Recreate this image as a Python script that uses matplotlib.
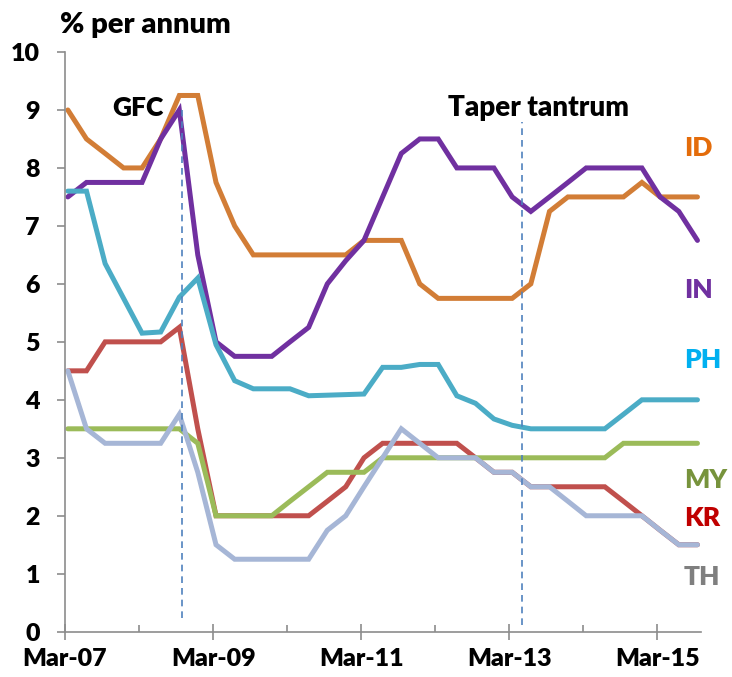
import numpy as np
import pandas as pd
import matplotlib
matplotlib.use("Agg")
import matplotlib.pyplot as plt
import matplotlib.dates as mdates

plt.rcParams['font.family'] = ['Lato', 'DejaVu Sans']
plt.rcParams['font.weight'] = 'heavy'

# quarterly policy rates, Mar-07 .. Sep-15 (% per annum)
quarters = pd.date_range('2007-03-01', '2015-09-01', freq='3MS') + pd.Timedelta(days=14)

ID = [9.0, 8.5, 8.25, 8.0, 8.0, 8.5, 9.25, 9.25, 7.75, 7.0, 6.5, 6.5, 6.5, 6.5, 6.5, 6.5,
      6.75, 6.75, 6.75, 6.0, 5.75, 5.75, 5.75, 5.75, 5.75, 6.0, 7.25, 7.5, 7.5, 7.5, 7.5,
      7.75, 7.5, 7.5, 7.5]
IN = [7.5, 7.75, 7.75, 7.75, 7.75, 8.5, 9.0, 6.5, 5.0, 4.75, 4.75, 4.75, 5.0, 5.25, 6.0, 6.4,
      6.75, 7.5, 8.25, 8.5, 8.5, 8.0, 8.0, 8.0, 7.5, 7.25, 7.5, 7.75, 8.0, 8.0, 8.0,
      8.0, 7.5, 7.25, 6.75]
PH = [7.6, 7.6, 6.35, 5.75, 5.15, 5.17, 5.77, 6.1, 4.95, 4.33, 4.19, 4.19, 4.19, 4.07, 4.08, 4.09,
      4.1, 4.56, 4.56, 4.61, 4.61, 4.07, 3.94, 3.67, 3.56, 3.5, 3.5, 3.5, 3.5, 3.5, 3.75,
      4.0, 4.0, 4.0, 4.0]
KR = [4.5, 4.5, 5.0, 5.0, 5.0, 5.0, 5.25, 3.5, 2.0, 2.0, 2.0, 2.0, 2.0, 2.0, 2.25, 2.5,
      3.0, 3.25, 3.25, 3.25, 3.25, 3.25, 3.0, 2.75, 2.75, 2.5, 2.5, 2.5, 2.5, 2.5, 2.25,
      2.0, 1.75, 1.5, 1.5]
MY = [3.5, 3.5, 3.5, 3.5, 3.5, 3.5, 3.5, 3.25, 2.0, 2.0, 2.0, 2.0, 2.25, 2.5, 2.75, 2.75,
      2.75, 3.0, 3.0, 3.0, 3.0, 3.0, 3.0, 3.0, 3.0, 3.0, 3.0, 3.0, 3.0, 3.0, 3.25,
      3.25, 3.25, 3.25, 3.25]
TH = [4.5, 3.5, 3.25, 3.25, 3.25, 3.25, 3.75, 2.75, 1.5, 1.25, 1.25, 1.25, 1.25, 1.25, 1.75, 2.0,
      2.5, 3.0, 3.5, 3.25, 3.0, 3.0, 3.0, 2.75, 2.75, 2.5, 2.5, 2.25, 2.0, 2.0, 2.0,
      2.0, 1.75, 1.5, 1.5]

major_ticks = pd.to_datetime(['2007-03-01', '2009-03-01', '2011-03-01', '2013-03-01', '2015-03-01'])
minor_ticks = pd.to_datetime(['2008-03-01', '2010-03-01', '2012-03-01', '2014-03-01'])

events = {'GFC': pd.Timestamp('2008-09-28'), 'Taper tantrum': pd.Timestamp('2013-05-01')}

fig = plt.figure(figsize=(7.32, 6.77), dpi=100)
ax = fig.add_axes([65/732, 45.3/677, (700.7-65)/732, (631.7-52)/677])

# drawing order: back to front
series = [
    ('ID', ID, '#D27D36'),
    ('IN', IN, '#7030A0'),
    ('PH', PH, '#4BACC6'),
    ('KR', KR, '#C0504D'),
    ('MY', MY, '#9BBB59'),
    ('TH', TH, '#A6B6D6'),
]
for name, vals, col in series:
    ax.plot(quarters, vals, color=col, lw=3.6, solid_capstyle='round', solid_joinstyle='miter')

# event markers
ax.plot([events['GFC']] * 2, [0.23, 9.0], color='#4F81BD', lw=1.2, ls=(0, (4, 3)))
ax.plot([events['Taper tantrum']] * 2, [0.11, 8.8], color='#4F81BD', lw=1.2, ls=(0, (4, 3)))

ax.set_ylim(0, 10)
ax.set_xlim(pd.Timestamp('2007-03-01'), pd.Timestamp('2015-10-01'))
ax.set_yticks(np.arange(0, 11, 1))
ax.set_xticks(major_ticks)
ax.set_xticks(minor_ticks, minor=True)
ax.xaxis.set_major_formatter(mdates.DateFormatter('%b-%y'))

for s in ['top', 'right']:
    ax.spines[s].set_visible(False)
for s in ['left', 'bottom']:
    ax.spines[s].set_color('#8C8C8C')
    ax.spines[s].set_linewidth(1.2)

ax.tick_params(axis='x', which='major', direction='inout', length=12, width=1.2,
               color='#8C8C8C', labelsize=18, pad=6)
ax.tick_params(axis='x', which='minor', direction='in', length=5, width=1.2, color='#8C8C8C')
ax.tick_params(axis='y', which='major', direction='out', length=6, width=1.2,
               color='#8C8C8C', labelsize=18, pad=12)

fig.text(60/732, 1 - 25/677, '% per annum', fontsize=21, va='center', ha='left')
fig.text(112/732, 1 - 108/677, 'GFC', fontsize=19, va='center', ha='left')
fig.text(448/732, 1 - 108/677, 'Taper tantrum', fontsize=20, va='center', ha='left')

labels = [('ID', '#E46C0A', 148), ('IN', '#7030A0', 290), ('PH', '#00B0F0', 360),
          ('MY', '#77933C', 480), ('KR', '#C00000', 518), ('TH', '#7F7F7F', 577)]
for txt, col, ypix in labels:
    fig.text(684/732, 1 - ypix/677, txt, color=col, fontsize=19,
             va='center', ha='left')

fig.savefig('out.png', dpi=100)
